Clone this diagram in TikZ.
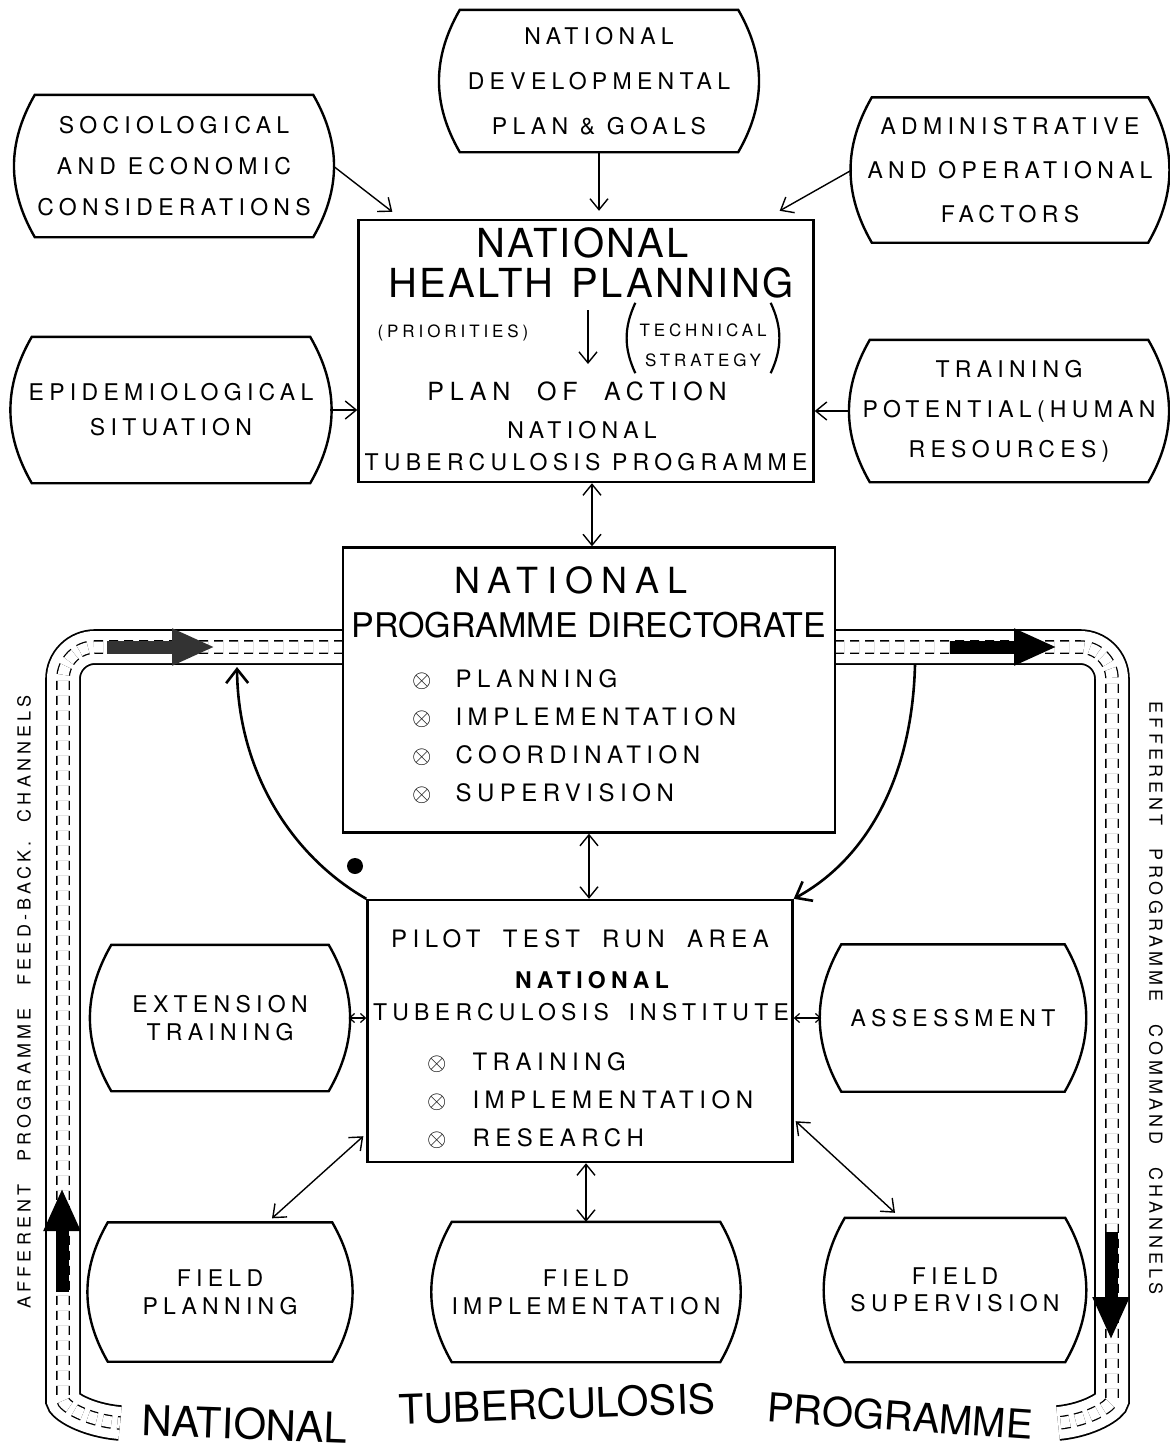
\documentclass[tikz,border=0pt]{standalone}
\usepackage{fontspec}
\setmainfont{TeX Gyre Heros}
\newfontfamily\letfont{TeX Gyre Heros}[LetterSpace=23]
\newfontfamily\headfont{TeX Gyre Heros}[LetterSpace=6]
\usetikzlibrary{arrows.meta}

\newcommand\crossmark{{\fontsize{27}{27}\selectfont$\otimes$}}

\begin{document}
\begin{tikzpicture}[x=1pt,y=-1pt,
    barrel/.style={inner sep=0pt, align=center},
    lines/.style={font=\letfont\fontsize{23}{#1}\selectfont},
    panel/.style={draw, line width=2.4pt, inner sep=0pt},
    label/.style={inner sep=0pt, anchor=base},
    conn/.style={line width=1.4pt, -{Straight Barb[length=11pt,width=18pt]}},
    biconn/.style={line width=1.4pt, {Straight Barb[length=11pt,width=18pt]}-{Straight Barb[length=11pt,width=18pt]}},
    smallbi/.style={line width=1.2pt, {Straight Barb[length=5pt,width=9pt]}-{Straight Barb[length=5pt,width=9pt]}},
    sweep/.style={line width=2.6pt, -{Straight Barb[length=14pt,width=22pt]}},
    tube/.style={line width=1.8pt, double=white, double distance=32pt},
    lane/.style={line width=1.3pt, double=white, double distance=11pt, dash pattern=on 9pt off 6pt},
    bigarrow/.style={line width=13pt, -{Triangle[length=43pt, width=34pt]}}]
  \path[fill=white] (0,0) rectangle (1170,1454);
  \useasboundingbox (0,0) rectangle (1170,1454);

  % channels round the programme
  \draw[tube] (343,647) [rounded corners=32pt] -- (63,647) -- (63,1368) [sharp corners]
    .. controls (63,1405) and (85,1420) .. (120,1423);
  \draw[lane] (343,647) [rounded corners=32pt] -- (63,647) -- (63,1368) [sharp corners]
    .. controls (63,1405) and (85,1420) .. (120,1423);
  \draw[tube] (835,647) [rounded corners=32pt] -- (1112,647) -- (1112,1368) [sharp corners]
    .. controls (1112,1405) and (1090,1420) .. (1058,1423);
  \draw[lane] (835,647) [rounded corners=32pt] -- (1112,647) -- (1112,1368) [sharp corners]
    .. controls (1112,1405) and (1090,1420) .. (1058,1423);

  \coordinate (fbA) at (107,647);   \coordinate (fbB) at (215,647);
  \coordinate (cmA) at (950,647);   \coordinate (cmB) at (1057,647);
  \coordinate (fbC) at (62,1292);   \coordinate (fbD) at (62,1188);
  \coordinate (cmC) at (1111,1232); \coordinate (cmD) at (1111,1340);
  \draw[bigarrow, black!80] (fbA) -- (fbB);
  \draw[bigarrow] (cmA) -- (cmB);
  \draw[bigarrow] (fbC) -- (fbD);
  \draw[bigarrow] (cmC) -- (cmD);

  % outer factors
  \node[barrel, lines=45, minimum width=318pt, minimum height=142pt] (devel) at (599,81)
    {NATIONAL\\DEVELOPMENTAL\\PLAN \& GOALS};
  \node[barrel, lines=41, minimum width=318pt, minimum height=142pt] (socio) at (174,166)
    {SOCIOLOGICAL\\AND ECONOMIC\\CONSIDERATIONS};
  \node[barrel, lines=44, minimum width=316pt, minimum height=145pt] (admin) at (1010,170)
    {ADMINISTRATIVE\\AND OPERATIONAL\\FACTORS};
  \node[barrel, lines=35, minimum width=318pt, minimum height=146pt] (epid) at (171,410)
    {EPIDEMIOLOGICAL\\SITUATION};
  \node[barrel, lines=40, minimum width=318pt, minimum height=142pt] (train) at (1009,411)
    {TRAINING\\POTENTIAL(HUMAN\\RESOURCES)};
  \node[barrel, lines=28, minimum width=257pt, minimum height=146pt] (ext) at (220,1018)
    {EXTENSION\\TRAINING};
  \node[barrel, lines=28, minimum width=263pt, minimum height=147pt] (assess) at (953,1018)
    {ASSESSMENT};
  \node[barrel, lines=28, minimum width=264pt, minimum height=139pt] (fplan) at (220,1292)
    {FIELD\\PLANNING};
  \node[barrel, lines=28, minimum width=308pt, minimum height=140pt] (fimpl) at (586,1292)
    {FIELD\\IMPLEMENTATION};
  \node[barrel, lines=27, minimum width=260pt, minimum height=144pt] (fsup) at (955,1290)
    {FIELD\\SUPERVISION};
  \foreach \n in {devel,socio,admin,epid,train,ext,assess,fplan,fimpl,fsup}
    \draw[line width=2.4pt] ([xshift=20pt]\n.north west) to[bend right=30] ([xshift=20pt]\n.south west)
      -- ([xshift=-20pt]\n.south east) to[bend right=30] ([xshift=-20pt]\n.north east) -- cycle;

  % national health planning
  \node[panel, minimum width=455pt, minimum height=262pt] (plan) at (586,351) {};
  \node[label, font=\headfont\fontsize{40}{40}\selectfont] (planA) at (583,257) {NATIONAL};
  \node[label, font=\headfont\fontsize{40}{40}\selectfont] (planB) at (591,297) {HEALTH\hspace{18pt}PLANNING};
  \node[label, font=\letfont\fontsize{17}{17}\selectfont] (planC) at (453,337) {(PRIORITIES)};
  \node[inner sep=0pt, font=\letfont\fontsize{17}{30}\selectfont] (planD) at (703,345)
    {\begin{tabular}{@{}c@{}}TECHNICAL\\STRATEGY\end{tabular}};
  \draw[line width=2.2pt] ([xshift=-4pt,yshift=12pt]planD.north west) to[bend right=25] ([xshift=-4pt,yshift=2pt]planD.south west);
  \draw[line width=2.2pt] ([xshift=4pt,yshift=2pt]planD.south east) to[bend right=25] ([xshift=4pt,yshift=12pt]planD.north east);
  \coordinate (prA) at (588,310); \coordinate (prB) at (588,364);
  \draw[conn] (prA) -- (prB);
  \node[label, font=\letfont\fontsize{25}{25}\selectfont] (planE) at (577,400) {PLAN\hspace{14pt} OF\hspace{14pt} ACTION};
  \node[label, font=\letfont\fontsize{23}{23}\selectfont] (planF) at (582,438) {NATIONAL};
  \node[label, font=\letfont\fontsize{23}{23}\selectfont] (planG) at (586,470) {TUBERCULOSIS PROGRAMME};

  % directorate
  \node[panel, fill=white, minimum width=492pt, minimum height=285pt] (direct) at (589,690) {};
  \node[label, font=\letfont\fontsize{36}{36}\selectfont] (dirA) at (571,593) {NATIONAL};
  \node[label, font=\fontsize{34}{34}\selectfont] (dirB) at (589,637) {PROGRAMME DIRECTORATE};
  \node[inner sep=0pt, anchor=base west, font=\letfont\fontsize{24}{38}\selectfont] (dirC) at (412,687)
    {\begin{tabular}[t]{@{}l@{\hspace{24pt}}l@{}}
      \crossmark & PLANNING\\
      \crossmark & IMPLEMENTATION\\
      \crossmark & COORDINATION\\
      \crossmark & SUPERVISION
    \end{tabular}};

  % pilot area
  \node[panel, minimum width=425pt, minimum height=262pt] (pilot) at (580,1031) {};
  \node[label, font=\letfont\fontsize{24}{24}\selectfont] (pilA) at (580,947) {PILOT\hspace{10pt} TEST\hspace{10pt} RUN\hspace{10pt} AREA};
  \node[label, font=\letfont\bfseries\fontsize{23}{23}\selectfont] (pilB) at (592,988) {NATIONAL};
  \node[label, font=\letfont\fontsize{23}{23}\selectfont] (pilC) at (581,1020) {TUBERCULOSIS\hspace{8pt} INSTITUTE};
  \node[inner sep=0pt, anchor=base west, font=\letfont\fontsize{24}{38}\selectfont] (pilD) at (427,1070)
    {\begin{tabular}[t]{@{}l@{\hspace{26pt}}l@{}}
      \crossmark & TRAINING\\
      \crossmark & IMPLEMENTATION\\
      \crossmark & RESEARCH
    \end{tabular}};
  \node[circle, fill, inner sep=0pt, minimum size=16pt] (dot) at (355,866) {};

  % connectors
  \draw[conn] (devel.south) -- ([yshift=8pt]devel.south |- plan.north);
  \draw[conn] (socio.east) -- ([xshift=35pt,yshift=7pt]plan.north west);
  \draw[conn] (admin.west) -- ([xshift=-35pt,yshift=8pt]plan.north east);
  \draw[conn] (epid.east) -- (epid.east -| plan.west);
  \draw[conn] (train.west) -- (train.west -| plan.east);
  \draw[biconn] ([xshift=6pt]plan.south) -- ([xshift=6pt]plan.south |- direct.north);
  \draw[biconn] (direct.south) -- (direct.south |- pilot.north);
  \draw[smallbi] (ext.east) -- (ext.east -| pilot.west);
  \draw[smallbi] (assess.west) -- (assess.west -| pilot.east);
  \draw[biconn] (fimpl.north) -- (fimpl.north |- pilot.south);
  \draw[biconn] ([xshift=52pt,yshift=4pt]fplan.north) -- ([xshift=-3pt,yshift=27pt]pilot.south west);
  \draw[biconn] ([xshift=-60pt,yshift=5pt]fsup.north) -- ([xshift=2pt,yshift=42pt]pilot.south east);
  \coordinate (fbTip) at (237,667);
  \coordinate (cmFoot) at (915,665);
  \draw[sweep] (pilot.north west) .. controls (290,855) and (238,770) .. (fbTip);
  \draw[sweep] (cmFoot) .. controls (912,780) and (865,860) .. (pilot.north east);

  % channel labels
  \node[rotate=90, inner sep=0pt, font=\letfont\fontsize{18}{18}\selectfont] (afferent) at (24,1002)
    {AFFERENT\hspace{14pt} PROGRAMME\hspace{14pt} FEED-BACK.\hspace{10pt} CHANNELS};
  \node[rotate=-90, inner sep=0pt, font=\letfont\fontsize{18}{18}\selectfont] (efferent) at (1156,998)
    {EFFERENT\hspace{14pt} PROGRAMME\hspace{14pt} COMMAND\hspace{14pt} CHANNELS};
  \node[rotate=-2, inner sep=0pt, font=\fontsize{42}{42}\selectfont] (botA) at (245,1424) {NATIONAL};
  \node[rotate=2, inner sep=0pt, font=\fontsize{41}{41}\selectfont] (botB) at (557,1404) {TUBERCULOSIS};
  \node[rotate=-4, inner sep=0pt, font=\fontsize{40}{40}\selectfont] (botC) at (900,1416) {PROGRAMME};
\end{tikzpicture}
\end{document}
